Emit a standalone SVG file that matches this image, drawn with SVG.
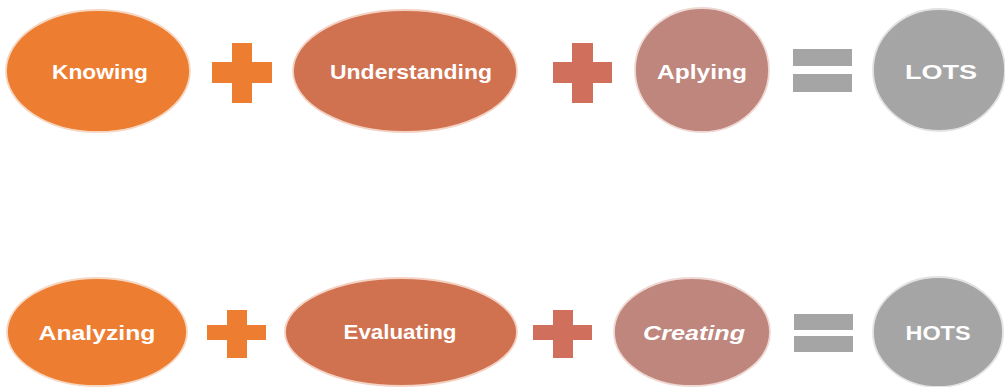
<svg xmlns="http://www.w3.org/2000/svg" width="1005" height="387" viewBox="0 0 1005 387">
<style>
.lbl{font-family:"Liberation Sans","DejaVu Sans",sans-serif;font-weight:bold;font-size:21px;fill:#FFFFFF;text-anchor:middle}
.n1{fill:#ED7D31;stroke:#F6D7C2;stroke-width:1.8}
.n2{fill:#D0714F;stroke:#F3D2C4;stroke-width:1.8}
.n3{fill:#BE867C;stroke:#EFD8D3;stroke-width:1.8}
.n4{fill:#A5A5A5;stroke:#E2E2E2;stroke-width:1.8}
.p1{fill:#ED7D31}
.p2{fill:#CF6F5C}
.eq{fill:#A5A5A5}
</style>
<g id="connectors">
  <path class="p1" d="M232 43h20v19h20v21h-20v20h-20v-20h-20v-21h20z"/>
  <path class="p2" d="M572 43h21v19h19v21h-19v20h-21v-20h-19v-21h19z"/>
  <rect class="eq" x="793" y="49" width="59" height="17"/>
  <rect class="eq" x="793" y="74" width="59" height="18"/>
  <path class="p1" d="M227 310h20v15h19v15h-19v18h-20v-18h-20v-15h20z"/>
  <path class="p2" d="M553 310h20v15h19v15h-19v18h-20v-18h-20v-15h20z"/>
  <rect class="eq" x="794" y="314" width="59" height="16"/>
  <rect class="eq" x="794" y="336" width="59" height="16"/>
</g>
<g id="knowing">
  <ellipse class="n1" cx="98" cy="71" rx="92" ry="61"/>
  <text class="lbl" x="100" y="79" textLength="96" lengthAdjust="spacingAndGlyphs">Knowing</text>
</g>
<g id="understanding">
  <ellipse class="n2" cx="405" cy="71" rx="112" ry="61"/>
  <text class="lbl" x="411" y="79" textLength="162" lengthAdjust="spacingAndGlyphs">Understanding</text>
</g>
<g id="aplying">
  <ellipse class="n3" cx="702" cy="70" rx="67" ry="62"/>
  <text class="lbl" x="702" y="79" textLength="90" lengthAdjust="spacingAndGlyphs">Aplying</text>
</g>
<g id="lots">
  <ellipse class="n4" cx="939" cy="70" rx="66" ry="61"/>
  <text class="lbl" x="941" y="79" textLength="72" lengthAdjust="spacingAndGlyphs">LOTS</text>
</g>
<g id="analyzing">
  <ellipse class="n1" cx="97" cy="332" rx="90" ry="54"/>
  <text class="lbl" x="97" y="340" textLength="117" lengthAdjust="spacingAndGlyphs">Analyzing</text>
</g>
<g id="evaluating">
  <ellipse class="n2" cx="401" cy="332" rx="116" ry="54"/>
  <text class="lbl" x="400" y="339" font-size="19" textLength="113" lengthAdjust="spacingAndGlyphs">Evaluating</text>
</g>
<g id="creating">
  <ellipse class="n3" cx="692" cy="332" rx="78" ry="54"/>
  <text class="lbl" x="694" y="340" font-style="italic" textLength="102" lengthAdjust="spacingAndGlyphs">Creating</text>
</g>
<g id="hots">
  <ellipse class="n4" cx="938" cy="332" rx="65" ry="55"/>
  <text class="lbl" x="938" y="340" textLength="65" lengthAdjust="spacingAndGlyphs">HOTS</text>
</g>
</svg>
